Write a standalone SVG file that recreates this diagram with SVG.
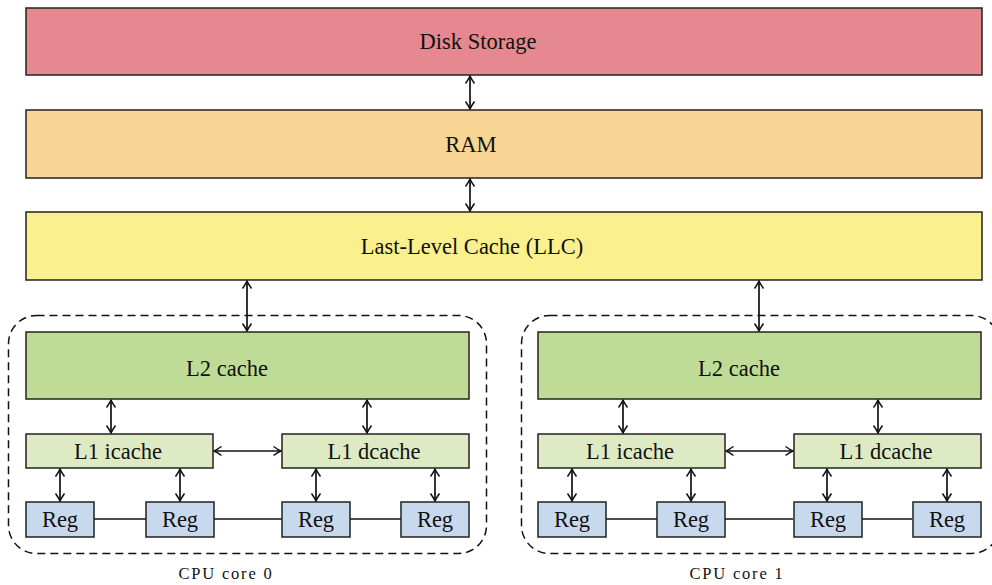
<svg xmlns="http://www.w3.org/2000/svg" width="992" height="585" viewBox="0 0 992 585">
<style>
.box{stroke:#222;stroke-width:1.5}
.disk{fill:#E5888F}.ram{fill:#F8D594}.llc{fill:#FAF08E}.l2{fill:#BFDC96}.l1{fill:#DEEAC4}.reg{fill:#C8D9ED}
.t{font-family:"Liberation Serif","Times New Roman",serif;font-size:22.5px;fill:#111;text-anchor:middle;dominant-baseline:central}
.cap{font-family:"Liberation Serif","Times New Roman",serif;font-size:16.5px;fill:#111;text-anchor:middle;letter-spacing:1.8px}
.ar{stroke:#111;stroke-width:1.7;fill:none;marker-start:url(#ah);marker-end:url(#ah)}
.ln{stroke:#111;stroke-width:1.3;fill:none}
.core{fill:none;stroke:#111;stroke-width:1.5;stroke-dasharray:8 5}
</style>
<defs>
<marker id="ah" markerUnits="userSpaceOnUse" markerWidth="16" markerHeight="16" viewBox="-9 -8 11 16" refX="0" refY="0" orient="auto-start-reverse">
<path d="M -7.5 -4.5 Q -2.5 -1 0 0 Q -2.5 1 -7.5 4.5" fill="none" stroke="#111" stroke-width="1.5"/>
</marker>
</defs>
<g id="core0">
<rect class="core" x="8.5" y="315.5" width="478" height="238" rx="28"/>
<text class="cap" x="226" y="579">CPU core 0</text>
</g>
<g id="core1">
<rect class="core" x="521.5" y="315.5" width="478" height="238" rx="28"/>
<text class="cap" x="737" y="579">CPU core 1</text>
</g>
<g id="connectors">
<line class="ar" x1="470" y1="76" x2="470" y2="109"/>
<line class="ar" x1="470" y1="179" x2="470" y2="211"/>
<line class="ar" x1="247" y1="281" x2="247" y2="331"/>
<line class="ar" x1="759" y1="281" x2="759" y2="331"/>
<line class="ar" x1="111" y1="400" x2="111" y2="433"/>
<line class="ar" x1="367" y1="400" x2="367" y2="433"/>
<line class="ar" x1="623" y1="400" x2="623" y2="433"/>
<line class="ar" x1="878" y1="400" x2="878" y2="433"/>
<line class="ar" x1="214" y1="451" x2="281" y2="451"/>
<line class="ar" x1="726" y1="451" x2="793" y2="451"/>
<line class="ar" x1="60" y1="469" x2="60" y2="501"/>
<line class="ar" x1="180" y1="469" x2="180" y2="501"/>
<line class="ar" x1="316" y1="469" x2="316" y2="501"/>
<line class="ar" x1="435" y1="469" x2="435" y2="501"/>
<line class="ar" x1="572" y1="469" x2="572" y2="501"/>
<line class="ar" x1="691" y1="469" x2="691" y2="501"/>
<line class="ar" x1="827" y1="469" x2="827" y2="501"/>
<line class="ar" x1="947" y1="469" x2="947" y2="501"/>
<line class="ln" x1="94" y1="519" x2="146" y2="519"/>
<line class="ln" x1="214" y1="519" x2="282" y2="519"/>
<line class="ln" x1="350" y1="519" x2="401" y2="519"/>
<line class="ln" x1="606" y1="519" x2="657" y2="519"/>
<line class="ln" x1="725" y1="519" x2="793" y2="519"/>
<line class="ln" x1="862" y1="519" x2="912" y2="519"/>
</g>
<g id="disk"><rect class="box disk" x="26" y="8" width="956" height="67"/><text class="t" x="478" y="41">Disk Storage</text></g>
<g id="ram"><rect class="box ram" x="26" y="110" width="956" height="68"/><text class="t" x="471" y="144">RAM</text></g>
<g id="llc"><rect class="box llc" x="26" y="212" width="956" height="68"/><text class="t" x="472" y="246">Last-Level Cache (LLC)</text></g>
<g id="l2_0"><rect class="box l2" x="26" y="332" width="443" height="67"/><text class="t" x="227" y="368">L2 cache</text></g>
<g id="l2_1"><rect class="box l2" x="538" y="332" width="443" height="67"/><text class="t" x="739" y="368">L2 cache</text></g>
<g id="l1i_0"><rect class="box l1" x="26" y="434" width="187" height="34"/><text class="t" x="118" y="451">L1 icache</text></g>
<g id="l1d_0"><rect class="box l1" x="282" y="434" width="187" height="34"/><text class="t" x="374" y="451">L1 dcache</text></g>
<g id="l1i_1"><rect class="box l1" x="538" y="434" width="187" height="34"/><text class="t" x="630" y="451">L1 icache</text></g>
<g id="l1d_1"><rect class="box l1" x="794" y="434" width="187" height="34"/><text class="t" x="886" y="451">L1 dcache</text></g>
<g id="reg0_0"><rect class="box reg" x="26" y="502" width="68" height="35"/><text class="t" x="60" y="519">Reg</text></g>
<g id="reg0_1"><rect class="box reg" x="146" y="502" width="68" height="35"/><text class="t" x="180" y="519">Reg</text></g>
<g id="reg0_2"><rect class="box reg" x="282" y="502" width="68" height="35"/><text class="t" x="316" y="519">Reg</text></g>
<g id="reg0_3"><rect class="box reg" x="401" y="502" width="68" height="35"/><text class="t" x="435" y="519">Reg</text></g>
<g id="reg1_0"><rect class="box reg" x="538" y="502" width="68" height="35"/><text class="t" x="572" y="519">Reg</text></g>
<g id="reg1_1"><rect class="box reg" x="657" y="502" width="68" height="35"/><text class="t" x="691" y="519">Reg</text></g>
<g id="reg1_2"><rect class="box reg" x="794" y="502" width="68" height="35"/><text class="t" x="828" y="519">Reg</text></g>
<g id="reg1_3"><rect class="box reg" x="913" y="502" width="68" height="35"/><text class="t" x="947" y="519">Reg</text></g>
</svg>
